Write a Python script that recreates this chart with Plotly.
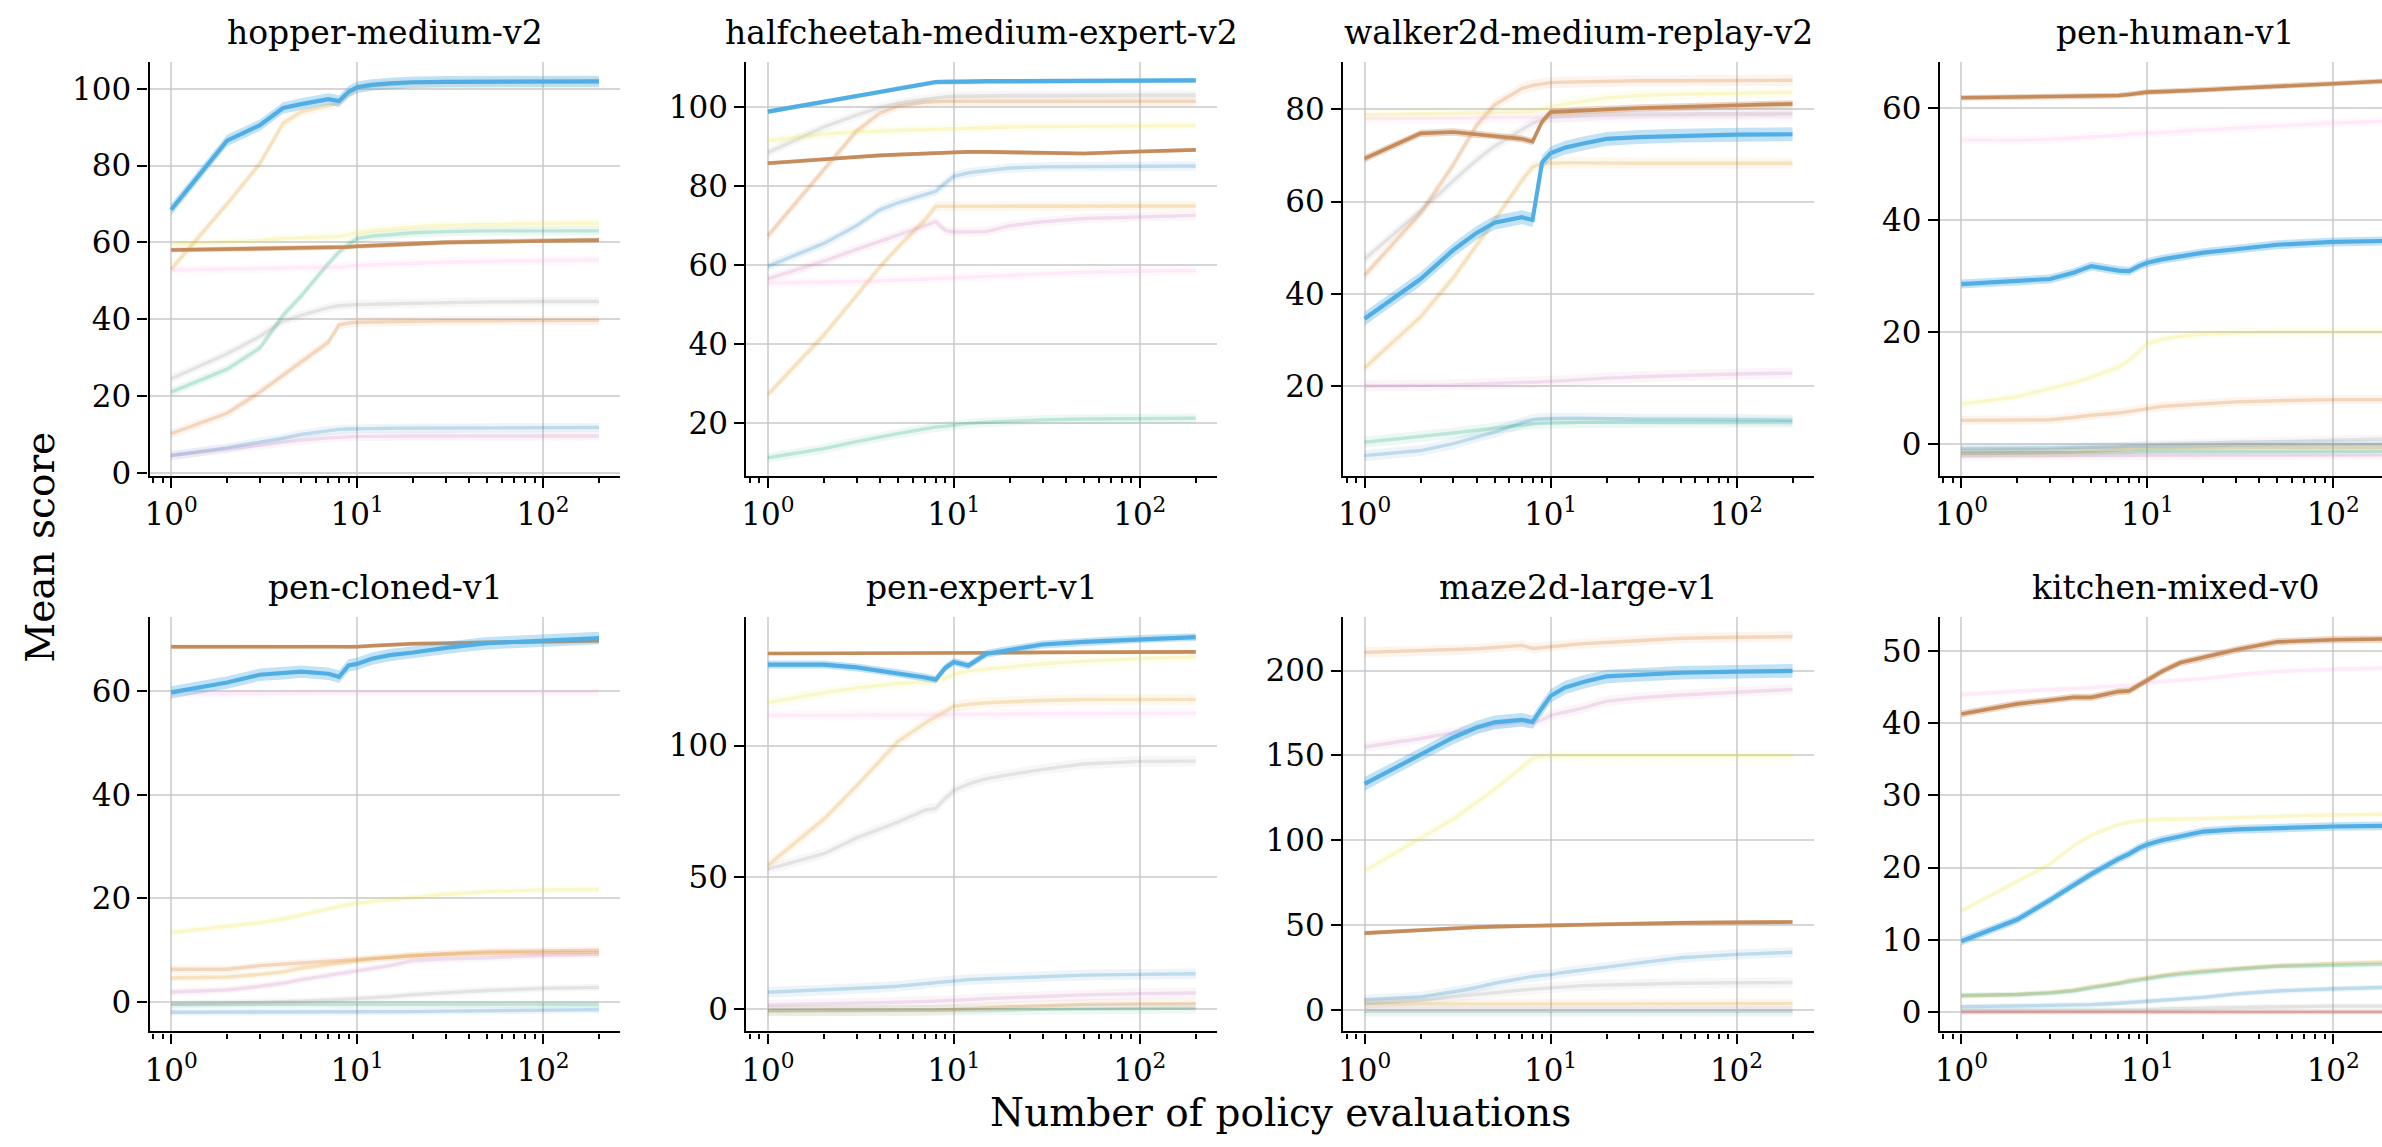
import plotly.graph_objects as go

# Evaluation counts at which every method's mean score is sampled
X_EVALS = [1, 2, 3, 4, 5, 7, 8, 9, 10, 12, 15, 20, 30, 50, 100, 200]

hopper_medium_v2 = {
    "blue":       [4.5, 6.5, 8, 9, 10, 11, 11.3, 11.4, 11.5, 11.5, 11.6, 11.6, 11.6, 11.7, 11.8, 11.8],
    "orange":     [53, 70, 80.5, 91, 94, 95.8, 96.3, 98.5, 100, 100.8, 101.2, 101.5, 101.7, 101.8, 101.8, 101.8],
    "green":      [21, 27, 32.5, 41, 46, 54.5, 57.5, 59.5, 61, 61.6, 62, 62.5, 62.8, 63, 63, 63],
    "vermillion": [10.2, 15.5, 21, 25.5, 29, 34, 38.5, 39, 39.2, 39.3, 39.4, 39.5, 39.6, 39.6, 39.7, 39.7],
    "purple":     [4.5, 6.3, 7.3, 8, 8.5, 9.1, 9.3, 9.4, 9.5, 9.5, 9.6, 9.6, 9.6, 9.6, 9.6, 9.6],
    "pink":       [52.8, 53, 53.2, 53.3, 53.4, 53.5, 53.6, 53.8, 54, 54.1, 54.3, 54.6, 54.9, 55.1, 55.3, 55.4],
    "gray":       [24.5, 31, 35.5, 39.5, 41, 43, 43.5, 43.7, 43.8, 43.9, 44, 44.2, 44.4, 44.5, 44.6, 44.6],
    "yellow":     [59.5, 60, 60.5, 61, 61.2, 61.5, 61.5, 62, 62.5, 63, 63.5, 64, 64.5, 64.7, 64.9, 65],
    "copper":     [58.0, 58.2, 58.3, 58.4, 58.5, 58.6, 58.7, 58.8, 59.0, 59.1, 59.3, 59.6, 60.0, 60.2, 60.5, 60.6],
    "sky":        [68.5, 86.5, 90.5, 95.0, 96.0, 97.3, 96.8, 99.2, 100.4, 101.0, 101.4, 101.7, 101.8, 101.9, 101.9, 101.9],
}

halfcheetah_medium_expert_v2 = {
    "blue":       [59.7, 65.5, 70, 74, 75.8, 78, 78.7, 80.8, 82.5, 83.4, 84, 84.6, 84.9, 85, 85.1, 85.1],
    "orange":     [27.2, 42.3, 52.3, 59.5, 64.5, 71.5, 74.9, 74.9, 74.9, 75, 75, 75, 75, 75, 75, 75],
    "green":      [11.2, 13.5, 15.3, 16.5, 17.3, 18.5, 19, 19.2, 19.5, 19.9, 20.2, 20.5, 20.8, 21, 21.1, 21.2],
    "vermillion": [67.4, 84, 94, 98.5, 100.3, 101.3, 101.5, 101.5, 101.5, 101.5, 101.5, 101.5, 101.5, 101.5, 101.5, 101.5],
    "purple":     [56.5, 61, 64, 66, 67.5, 70, 71, 68.8, 68.4, 68.4, 68.5, 70, 71, 71.8, 72.3, 72.6],
    "pink":       [55.4, 55.6, 55.8, 56, 56.2, 56.5, 56.6, 56.7, 56.8, 57, 57.2, 57.5, 57.9, 58.2, 58.5, 58.6],
    "gray":       [88.5, 95, 98, 100, 101, 102, 102.5, 102.7, 102.8, 102.9, 103, 103, 103, 103.1, 103.1, 103.1],
    "yellow":     [91.5, 93.2, 93.8, 94, 94.2, 94.4, 94.5, 94.5, 94.6, 94.7, 94.8, 95, 95.1, 95.2, 95.3, 95.4],
    "copper":     [85.8, 86.8, 87.5, 87.8, 88.0, 88.3, 88.5, 88.6, 88.7, 88.7, 88.7, 88.6, 88.4, 88.3, 88.8, 89.2],
    "sky":        [98.9, 101.3, 102.7, 103.8, 104.7, 105.9, 106.4, 106.5, 106.5, 106.5, 106.6, 106.6, 106.6, 106.6, 106.7, 106.8],
}

walker2d_medium_replay_v2 = {
    "blue":       [4.9, 6, 7.5, 9, 10, 12, 12.7, 12.9, 13, 13, 13, 12.9, 12.8, 12.8, 12.7, 12.6],
    "orange":     [23.9, 35, 43.5, 50.5, 56, 64.5, 67.5, 68.3, 68.4, 68.4, 68.4, 68.3, 68.3, 68.3, 68.3, 68.3],
    "green":      [7.8, 9, 9.8, 10.4, 10.9, 11.5, 11.8, 11.9, 12, 12, 12.1, 12.1, 12.2, 12.2, 12.2, 12.2],
    "vermillion": [44, 57.5, 68, 76.5, 81, 84.5, 85.2, 85.5, 85.8, 85.9, 86, 86.1, 86.2, 86.2, 86.3, 86.3],
    "purple":     [20, 20.1, 20.2, 20.4, 20.5, 20.7, 20.8, 20.9, 21, 21.2, 21.4, 21.7, 22, 22.3, 22.6, 22.8],
    "pink":       [78, 78, 78.1, 78.1, 78.2, 78.2, 78.3, 78.3, 78.3, 78.4, 78.4, 78.5, 78.5, 78.6, 78.6, 78.7],
    "gray":       [47.5, 58, 64.5, 69, 72, 75.5, 77, 77.8, 78.3, 78.5, 78.7, 78.9, 79, 79, 79.1, 79.1],
    "yellow":     [78.8, 79, 79.1, 79.2, 79.3, 79.5, 79.6, 80, 80.5, 81.2, 81.8, 82.5, 83, 83.3, 83.5, 83.7],
    "copper":     [69.3, 74.8, 75.1, 74.6, 74.3, 73.6, 73.0, 77.3, 79.4, 79.6, 79.8, 80.0, 80.3, 80.5, 80.8, 81.2],
    "sky":        [34.6, 43.2, 49.5, 53.2, 55.4, 56.6, 56.0, 68.5, 70.5, 71.7, 72.6, 73.6, 74.0, 74.3, 74.5, 74.6],
}

pen_human_v1 = {
    "blue":       [-0.7, -0.7, -0.6, -0.5, -0.5, -0.4, -0.3, -0.3, -0.3, -0.2, -0.2, -0.2, -0.1, 0, 0, 0],
    "orange":     [-1.6, -1.6, -1.5, -1.4, -1.2, -1, -0.9, -0.8, -0.7, -0.7, -0.6, -0.6, -0.5, -0.5, -0.5, -0.5],
    "green":      [-1.5, -1.5, -1.5, -1.5, -1.4, -1.4, -1.4, -1.3, -1.3, -1.3, -1.3, -1.2, -1.2, -1.2, -1.2, -1.2],
    "vermillion": [4.3, 4.3, 4.4, 4.8, 5.2, 5.6, 5.9, 6.2, 6.5, 6.8, 7, 7.3, 7.6, 7.8, 8, 8],
    "purple":     [-2, -2, -2, -2, -2, -2, -2, -2, -2, -2, -1.9, -1.9, -1.9, -1.9, -1.9, -1.9],
    "pink":       [54.3, 54.2, 54.4, 54.6, 54.8, 55.1, 55.3, 55.4, 55.5, 55.7, 55.9, 56.1, 56.4, 56.8, 57.3, 57.6],
    "gray":       [-1.1, -1, -0.9, -0.7, -0.6, -0.4, -0.3, -0.2, -0.1, 0, 0.1, 0.2, 0.4, 0.5, 0.7, 1],
    "yellow":     [7.2, 8.5, 10, 11, 12, 13.8, 15, 16.5, 18, 18.8, 19.3, 19.7, 19.9, 20, 20, 20],
    "copper":     [61.8, 61.9, 62.0, 62.0, 62.1, 62.2, 62.4, 62.6, 62.8, 62.9, 63.0, 63.2, 63.5, 63.9, 64.3, 64.8],
    "sky":        [28.6, 29.2, 29.5, 30.6, 31.8, 31.0, 30.9, 31.8, 32.4, 33.0, 33.5, 34.2, 34.8, 35.6, 36.1, 36.3],
}

pen_cloned_v1 = {
    "blue":       [-2, -2, -2, -2, -2, -2, -2, -2, -2, -2, -1.9, -1.9, -1.8, -1.7, -1.6, -1.5],
    "orange":     [4.6, 4.8, 5.3, 5.8, 6.5, 7.2, 7.5, 7.8, 8, 8.3, 8.6, 9, 9.2, 9.4, 9.5, 9.5],
    "green":      [-0.5, -0.5, -0.5, -0.5, -0.5, -0.5, -0.5, -0.5, -0.5, -0.5, -0.5, -0.5, -0.5, -0.5, -0.5, -0.5],
    "vermillion": [6.3, 6.3, 7, 7.3, 7.5, 7.8, 8, 8.1, 8.2, 8.4, 8.6, 9, 9.3, 9.7, 9.9, 10],
    "purple":     [1.9, 2.3, 3, 3.6, 4.3, 5.1, 5.5, 5.8, 6, 6.5, 7, 8, 8.3, 8.5, 9, 9.2],
    "pink":       [59.5, 59.6, 59.7, 59.8, 59.8, 59.8, 59.8, 59.8, 59.8, 59.8, 59.8, 59.8, 59.8, 59.8, 59.8, 59.8],
    "gray":       [-0.5, -0.3, -0.1, 0, 0.1, 0.3, 0.4, 0.5, 0.6, 0.8, 1, 1.4, 1.8, 2.2, 2.6, 2.8],
    "yellow":     [13.4, 14.5, 15.3, 16, 16.8, 18, 18.5, 18.8, 19, 19.4, 19.7, 20.2, 20.8, 21.3, 21.6, 21.7],
    "copper":     [68.6, 68.6, 68.6, 68.6, 68.7, 68.7, 68.7, 68.6, 68.6, 68.8, 69.0, 69.2, 69.3, 69.5, 69.6, 69.8],
    "sky":        [59.8, 61.7, 63.2, 63.5, 63.8, 63.4, 62.8, 65.0, 65.3, 66.3, 67.0, 67.5, 68.4, 69.3, 69.8, 70.3],
}

pen_expert_v1 = {
    "blue":       [6.5, 7.3, 7.9, 8.4, 8.8, 9.8, 10.3, 10.7, 11, 11.3, 11.6, 12, 12.5, 13, 13.3, 13.5],
    "orange":     [54.6, 72.1, 84.7, 94, 101.5, 108.5, 110.8, 113, 114.9, 115.6, 116.2, 116.6, 117.1, 117.4, 117.5, 117.5],
    "green":      [-0.5, -0.5, -0.5, -0.5, -0.5, -0.4, -0.4, -0.4, -0.4, -0.3, -0.2, -0.1, 0, 0.2, 0.4, 0.5],
    "vermillion": [-0.5, -0.5, -0.5, -0.4, -0.4, -0.3, -0.2, -0.1, 0, 0.3, 0.6, 1, 1.5, 1.9, 2.1, 2.2],
    "purple":     [1.7, 2, 2.3, 2.5, 2.7, 3, 3.1, 3.2, 3.3, 3.7, 4.1, 4.5, 5, 5.5, 6, 6.2],
    "pink":       [111.4, 111.4, 111.5, 111.5, 111.6, 111.7, 111.7, 111.7, 111.8, 111.8, 111.9, 112, 112.1, 112.2, 112.3, 112.3],
    "gray":       [53.2, 59, 65, 68.5, 71, 75.5, 76.3, 80, 82.9, 85.5, 87.5, 89, 91, 93, 94, 94.1],
    "yellow":     [116.3, 120, 121.8, 122.8, 123.5, 124.2, 124.5, 125.5, 127, 128.3, 129, 130, 131, 132, 133, 133.6],
    "copper":     [134.9, 134.9, 134.9, 135, 135, 135, 135, 135, 135, 135.1, 135.1, 135.2, 135.3, 135.4, 135.4, 135.5],
    "sky":        [130.7, 130.7, 129.6, 128.4, 127.5, 125.8, 125.0, 129.5, 131.7, 130.3, 134.8, 136.3, 138.3, 139.3, 140.4, 141.1],
}

maze2d_large_v1 = {
    "blue":       [6.3, 8, 11, 13.5, 16, 19, 20, 20.6, 21.1, 22.5, 24, 25.5, 28, 31, 33, 34.2],
    "orange":     [3.8, 3.8, 3.8, 3.8, 3.8, 3.8, 3.8, 3.8, 3.8, 3.8, 3.8, 3.9, 3.9, 4, 4, 4],
    "green":      [-0.5, -0.5, -0.5, -0.5, -0.5, -0.5, -0.5, -0.5, -0.5, -0.5, -0.5, -0.5, -0.5, -0.5, -0.5, -0.5],
    "vermillion": [210.7, 211.5, 212, 212.8, 213.5, 214.8, 213, 213.5, 214.3, 215, 215.8, 216.5, 217.5, 219, 219.6, 220],
    "purple":     [155, 160, 163.5, 166, 168, 169.8, 169, 171, 173.6, 175.5, 178, 182, 184, 185.6, 187.5, 188.9],
    "pink":       [0, 0, 0, 0, 0, 0, 0, 0, 0, 0, 0, 0, 0, 0, 0, 0],
    "gray":       [4.1, 6, 8, 9.5, 10.5, 12, 12.5, 12.9, 13.3, 14, 14.6, 15, 15.6, 16, 16.3, 16.4],
    "yellow":     [82.1, 101.7, 112.6, 122.4, 130, 143, 148.6, 149.5, 149.8, 149.9, 149.9, 149.9, 149.9, 149.9, 149.9, 149.9],
    "copper":     [45.5, 47.4, 48.3, 48.9, 49.3, 49.8, 50, 50, 50, 50.2, 50.4, 50.7, 51, 51.5, 51.8, 52],
    "sky":        [133.3, 150.8, 160.6, 166.5, 169.5, 171, 169.7, 178, 185, 190, 193.2, 196.5, 197.5, 198.7, 199.3, 199.8],
}

kitchen_mixed_v0 = {
    "blue":       [0.7, 0.8, 0.9, 1, 1, 1.2, 1.3, 1.35, 1.4, 1.6, 1.8, 2, 2.5, 2.9, 3.2, 3.4],
    "orange":     [2.2, 2.4, 2.7, 3, 3.5, 4, 4.4, 4.6, 4.8, 5.1, 5.4, 5.7, 6, 6.4, 6.7, 6.9],
    "green":      [2.3, 2.4, 2.6, 2.9, 3.3, 3.9, 4.2, 4.4, 4.6, 4.9, 5.2, 5.5, 5.9, 6.3, 6.5, 6.6],
    "vermillion": [0, 0, 0, 0, 0, 0, 0, 0, 0, 0, 0, 0, 0, 0, 0, 0],
    "purple":     [0, 0, 0, 0, 0, 0, 0, 0, 0, 0, 0, 0, 0, 0, 0, 0],
    "pink":       [44, 44.5, 44.7, 44.8, 45, 45.2, 45.3, 45.4, 45.6, 45.8, 46, 46.2, 46.7, 47.2, 47.5, 47.7],
    "gray":       [0.2, 0.2, 0.2, 0.2, 0.3, 0.3, 0.3, 0.3, 0.3, 0.4, 0.4, 0.5, 0.6, 0.7, 0.8, 0.8],
    "yellow":     [14, 18.1, 20.5, 23, 24.5, 26, 26.3, 26.5, 26.6, 26.7, 26.7, 26.8, 27, 27.1, 27.3, 27.4],
    "copper":     [41.3, 42.7, 43.2, 43.6, 43.6, 44.4, 44.5, 45.3, 46, 47.2, 48.4, 49.1, 50.2, 51.3, 51.6, 51.7],
    "sky":        [9.8, 12.8, 15.5, 17.6, 19.1, 21.2, 21.9, 22.7, 23.2, 23.8, 24.3, 25, 25.3, 25.5, 25.7, 25.8],
}

PANEL_TITLES = [
    "hopper-medium-v2", "halfcheetah-medium-expert-v2", "walker2d-medium-replay-v2", "pen-human-v1",
    "pen-cloned-v1", "pen-expert-v1", "maze2d-large-v1", "kitchen-mixed-v0",
]
PANEL_DATA = [
    hopper_medium_v2, halfcheetah_medium_expert_v2, walker2d_medium_replay_v2, pen_human_v1,
    pen_cloned_v1, pen_expert_v1, maze2d_large_v1, kitchen_mixed_v0,
]
# Half-width of the shaded spread around the two highlighted methods and the rest
SKY_SPREAD = [1.5, 0.6, 1.5, 0.8, 1.2, 1.5, 4.0, 0.6]
COPPER_SPREAD = [0.6, 0.5, 0.8, 0.5, 0.4, 0.6, 1.2, 0.5]
OTHER_SPREAD = [1.2, 1.2, 1.2, 0.8, 0.7, 2.0, 3.0, 0.4]

Y_RANGES = [(-0.8, 107.0), (6.6, 111.5), (0.5, 90.3), (-5.6, 68.2),
            (-5.7, 74.3), (-8.3, 148.6), (-12.3, 231.3), (-2.7, 54.7)]
Y_TICK_STEP = [20, 20, 20, 20, 20, 50, 50, 10]

X_TICK_VALUES = [1, 10, 100]
X_TICK_TEXT = ["10<sup>0</sup>", "10<sup>1</sup>", "10<sup>2</sup>"]
X_MINOR_VALUES = [0.8, 0.9] + [m * d for d in (1, 10) for m in range(2, 10)] + [200]

# ---- styling ----
COLORS = {
    "blue": (1, 115, 178), "orange": (222, 143, 5), "green": (2, 158, 115),
    "vermillion": (213, 94, 0), "purple": (204, 120, 188), "pink": (251, 175, 228),
    "gray": (148, 148, 148), "yellow": (236, 225, 51),
    "copper": (198, 139, 90), "sky": (80, 174, 228),
}
FONT = "DejaVu Serif"
W, H = 2382, 1147

# Pixel geometry of the grid of axes
COL_LEFT = [145, 743, 1341, 1939]
PANEL_W = 471.7
ROW_TOP = [62.7, 625.5]
PANEL_H = 419.5
LOG_LEFT, LOG_RIGHT = -0.115, 2.416
DECADE_PX = PANEL_W / (LOG_RIGHT - LOG_LEFT)


def rgba(rgb, a):
    return f"rgba({rgb[0]},{rgb[1]},{rgb[2]},{a})"


fig = go.Figure()
annotations = []
layout_axes = {}

for i, (title, data) in enumerate(zip(PANEL_TITLES, PANEL_DATA)):
    row, col = divmod(i, 4)
    n = i + 1
    xa = "x" if n == 1 else f"x{n}"
    ya = "y" if n == 1 else f"y{n}"

    left = COL_LEFT[col]
    right = min(left + PANEL_W, W)
    log_right = LOG_LEFT + (right - left) / DECADE_PX
    top = ROW_TOP[row]
    bottom = top + PANEL_H

    order = ["blue", "orange", "green", "vermillion", "purple", "pink", "gray", "yellow", "copper", "sky"]
    for key in order:
        vals = data[key]
        if key == "sky":
            sd, la, ba, lw = SKY_SPREAD[i], 1.0, 0.35, 4.2
        elif key == "copper":
            sd, la, ba, lw = COPPER_SPREAD[i], 1.0, 0.35, 3.6
        else:
            sd, la, ba, lw = OTHER_SPREAD[i], 0.2, 0.07, 3.4
        upper = [v + sd for v in vals]
        lower = [v - sd for v in vals]
        fig.add_trace(go.Scatter(
            x=X_EVALS + X_EVALS[::-1], y=upper + lower[::-1],
            fill="toself", fillcolor=rgba(COLORS[key], ba),
            line=dict(width=0), mode="lines", hoverinfo="skip",
            showlegend=False, xaxis=xa, yaxis=ya))
        fig.add_trace(go.Scatter(
            x=X_EVALS, y=vals, mode="lines",
            line=dict(color=rgba(COLORS[key], la), width=lw),
            showlegend=False, xaxis=xa, yaxis=ya))

    axis_common = dict(
        showline=True, linecolor="black", linewidth=2.4, mirror=False,
        ticks="outside", ticklen=10, tickwidth=2, tickcolor="black",
        showgrid=True, gridcolor="rgba(200,200,200,0.75)", gridwidth=1.6,
        zeroline=False, tickfont=dict(family=FONT, size=31, color="black"),
    )
    layout_axes["xaxis" if n == 1 else f"xaxis{n}"] = dict(
        axis_common, type="log", anchor=ya,
        domain=[left / W, right / W], range=[LOG_LEFT, log_right],
        tickmode="array", tickvals=X_TICK_VALUES, ticktext=X_TICK_TEXT,
        minor=dict(tickmode="array", tickvals=X_MINOR_VALUES, ticks="outside",
                   ticklen=5, tickwidth=1.5, tickcolor="black", showgrid=False),
    )
    layout_axes["yaxis" if n == 1 else f"yaxis{n}"] = dict(
        axis_common, anchor=xa,
        domain=[1 - bottom / H, 1 - top / H], range=list(Y_RANGES[i]),
        tick0=0, dtick=Y_TICK_STEP[i],
    )

    annotations.append(dict(
        text=title, xref="paper", yref="paper",
        x=(left + PANEL_W / 2) / W, y=1 - top / H, yshift=8,
        xanchor="center", yanchor="bottom", showarrow=False,
        font=dict(family=FONT, size=33, color="black")))

annotations.append(dict(
    text="Mean score", xref="paper", yref="paper", x=36 / W, y=1 - 554 / H,
    xanchor="center", yanchor="middle", textangle=-90, showarrow=False,
    font=dict(family=FONT, size=39, color="black")))
annotations.append(dict(
    text="Number of policy evaluations", xref="paper", yref="paper",
    x=1278 / W, y=1 - 1127 / H, xanchor="center", yanchor="middle", showarrow=False,
    font=dict(family=FONT, size=39, color="black")))

fig.update_layout(
    width=W, height=H, margin=dict(l=0, r=0, t=0, b=0),
    paper_bgcolor="white", plot_bgcolor="white",
    showlegend=False, annotations=annotations, **layout_axes,
)

fig.write_html("out.html")
